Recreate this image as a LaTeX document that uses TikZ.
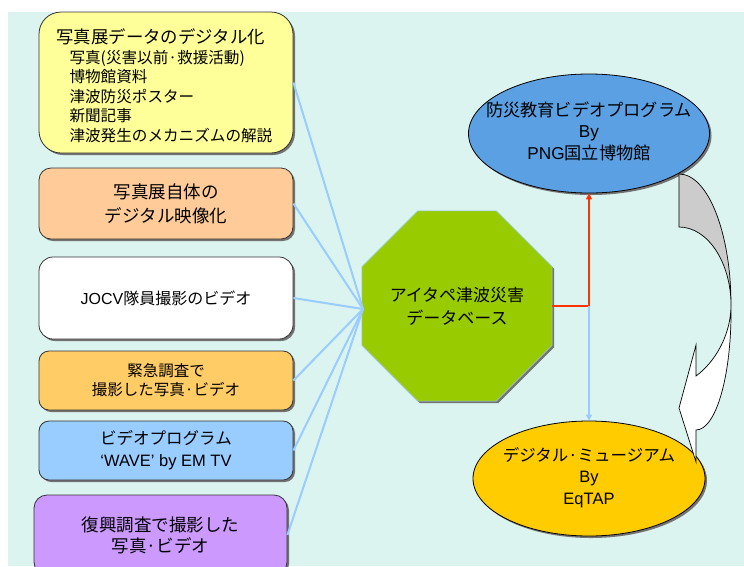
\documentclass[tikz,border=0pt]{standalone}
\usepackage{fontspec}
\setmainfont{Liberation Sans}
\newfontfamily\jp{Noto Sans CJK JP}
\usetikzlibrary{shapes.geometric,shadows,arrows.meta}
\definecolor{bgc}{HTML}{DCF4F0}
\definecolor{cyel}{HTML}{FFFF99}
\definecolor{corg}{HTML}{FFCC99}
\definecolor{cgold}{HTML}{FFCC66}
\definecolor{clblue}{HTML}{99CCFF}
\definecolor{cpurp}{HTML}{CC99FF}
\definecolor{cgreen}{HTML}{99CC00}
\definecolor{cblue}{HTML}{5BA0E3}
\definecolor{cyellow}{HTML}{FFCC00}
\definecolor{cred}{HTML}{FF3300}
\definecolor{cgray}{HTML}{CCCCCC}
\tikzset{
  shad/.style={drop shadow={shadow xshift=2pt,shadow yshift=-2pt,fill=black!55,opacity=1}},
  box/.style={shad,draw=black!80,line width=0.8pt,inner sep=0pt,align=center},
  conn/.style={draw=clblue,line width=2pt},
  oval/.style={ellipse,shad,draw=black,line width=0.8pt,inner sep=0pt},
  redarr/.style={draw=cred,line width=1.8pt,-{Triangle[length=6pt,width=6pt]}},
  bluearr/.style={draw=clblue,line width=1.3pt,-{Triangle[length=6pt,width=6pt]}},
}
\begin{document}
\begin{tikzpicture}[x=1pt,y=-1pt]
\clip (0,0) rectangle (744,566);
\useasboundingbox (0,0) rectangle (744,566);
\fill[white] (0,0) rectangle (744,566);
\fill[bgc] (8,12) rectangle (744,566);

% left boxes
\node[box,fill=cyel,minimum width=254pt,minimum height=141pt,rounded corners=22pt] (b1) at (166,82.5) {};
\node[anchor=west,font=\jp\fontsize{17.4}{20}\selectfont] (t1) at (53,37) {写真展データのデジタル化};
\node[anchor=west,align=left,font=\jp\fontsize{15.6}{19.5}\selectfont] (t2) at (66,96.5)
  {写真(災害以前·救援活動)\\博物館資料\\津波防災ポスター\\新聞記事\\津波発生のメカニズムの解説};

\node[box,fill=corg,minimum width=254pt,minimum height=71pt,rounded corners=12pt,
  font=\jp\fontsize{17.5}{24}\selectfont] (b2) at (166,203.5) {写真展自体の\\デジタル映像化};
\node[box,fill=white,minimum width=254pt,minimum height=82pt,rounded corners=14pt,
  font=\fontsize{16}{20}\selectfont] (b3) at (166,298) {JOCV{\jp 隊員撮影のビデオ}};
\node[box,fill=cgold,minimum width=254pt,minimum height=59pt,rounded corners=10pt,
  font=\jp\fontsize{15.5}{19}\selectfont] (b4) at (166,380.5) {緊急調査で\\撮影した写真·ビデオ};
\node[box,fill=clblue,minimum width=254pt,minimum height=59pt,rounded corners=10pt,
  font=\fontsize{16.5}{22}\selectfont] (b5) at (166,450.5) {{\jp ビデオプログラム}\\‘WAVE’ by EM TV};
\node[box,fill=cpurp,minimum width=253pt,minimum height=80pt,rounded corners=13pt,
  font=\jp\fontsize{17.5}{21}\selectfont] (b6) at (160.5,535) {復興調査で撮影した\\写真·ビデオ};

% hub
\node[regular polygon,regular polygon sides=8,minimum size=203.5pt,inner sep=0pt,
  fill=cgreen,draw=clblue,line width=0.6pt,shad,align=center,
  font=\jp\fontsize{17}{23}\selectfont] (db) at (457,306) {アイタペ津波災害\\データベース};
\coordinate (hub) at (363,309);
\foreach \b in {b1,b2,b3,b4,b5,b6} \draw[conn] (\b.east) -- (hub);

% ellipses
\node[oval,fill=cblue,minimum width=241pt,minimum height=119pt] (e1) at (589,133.5)
  {\makebox[0pt]{\fontsize{17.2}{21.5}\selectfont\begin{tabular}{@{}c@{}}{\jp 防災教育ビデオプログラム}\\By\\PNG{\jp 国立博物館}\end{tabular}}};
\node[oval,fill=cyellow,minimum width=232pt,minimum height=115pt] (e2) at (589,478.5)
  {\makebox[0pt]{\fontsize{16.5}{21.5}\selectfont\begin{tabular}{@{}c@{}}{\jp デジタル·ミュージアム}\\By\\EqTAP\end{tabular}}};

% arrows from hub
\draw[redarr] (db.east) -| (e1.south);
\draw[bluearr] (db.east -| e1.south) -- (e2.north);

% curved arrow
\filldraw[fill=cgray,draw=black,line width=0.7pt] (679,174) .. controls (708,174) and (731,233) .. (731,305)
  .. controls (731,263) and (708,227) .. (679,227) -- cycle;
\filldraw[fill=white,draw=black,line width=0.7pt] (731,305) .. controls (732,375) and (716,430) .. (696,430)
  -- (696,462) -- (679,408) -- (696,345) -- (696,376) .. controls (715,362) and (731,335) .. (731,305) -- cycle;
\end{tikzpicture}
\end{document}
